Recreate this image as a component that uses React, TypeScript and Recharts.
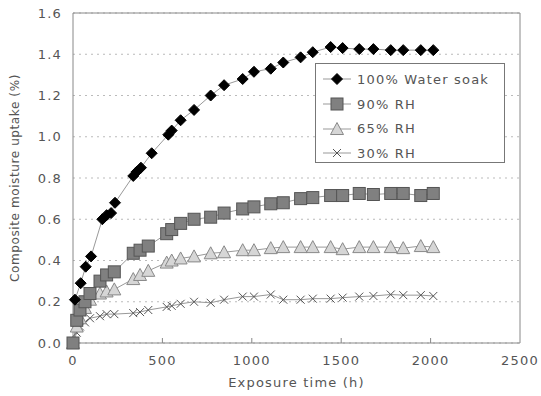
import { LineChart, Line, XAxis, YAxis, CartesianGrid, ReferenceLine } from "recharts";

// exposure time (h) and moisture uptake (%)
const waterHours = [11, 43, 71, 101, 164, 188, 213, 235, 337, 356, 380, 440, 533, 552, 602, 677, 770, 845, 949, 1012, 1106, 1176, 1273, 1341, 1441, 1508, 1601, 1680, 1777, 1847, 1945, 2015];
const waterSoak = [0.21, 0.29, 0.37, 0.42, 0.6, 0.62, 0.63, 0.68, 0.81, 0.83, 0.85, 0.92, 1.01, 1.03, 1.08, 1.13, 1.2, 1.25, 1.28, 1.315, 1.33, 1.36, 1.385, 1.41, 1.435, 1.43, 1.425, 1.425, 1.42, 1.42, 1.42, 1.42];

const rhHours = [0, 21, 39, 67, 95, 151, 188, 231, 337, 375, 421, 524, 552, 602, 677, 770, 845, 949, 1012, 1106, 1176, 1273, 1341, 1441, 1508, 1601, 1680, 1777, 1847, 1945, 2015];
const rh90 = [0, 0.11, 0.16, 0.2, 0.24, 0.3, 0.33, 0.345, 0.435, 0.45, 0.47, 0.53, 0.55, 0.58, 0.6, 0.61, 0.63, 0.65, 0.66, 0.675, 0.68, 0.7, 0.705, 0.715, 0.715, 0.725, 0.72, 0.725, 0.725, 0.715, 0.725];
const rh65 = [0, 0.08, 0.12, 0.17, 0.21, 0.24, 0.25, 0.26, 0.31, 0.33, 0.35, 0.39, 0.4, 0.41, 0.42, 0.435, 0.44, 0.45, 0.45, 0.46, 0.465, 0.465, 0.465, 0.465, 0.455, 0.465, 0.465, 0.465, 0.46, 0.47, 0.465];
const rh30 = [0, 0.05, 0.08, 0.1, 0.12, 0.13, 0.14, 0.14, 0.145, 0.15, 0.16, 0.175, 0.18, 0.19, 0.2, 0.195, 0.21, 0.225, 0.225, 0.235, 0.21, 0.21, 0.215, 0.215, 0.22, 0.225, 0.228, 0.235, 0.232, 0.232, 0.228];

const xTicks = [0, 500, 1000, 1500, 2000, 2500];
const yTicks = [0, 0.2, 0.4, 0.6, 0.8, 1.0, 1.2, 1.4, 1.6];

const toRows = (hours: number[], vals: number[]) => hours.map((h, i) => ({ h, v: vals[i] }));

const FONT = "DejaVu Sans, Verdana, sans-serif";
const TEXT = "#555";
const LINK = "#999";

const Diamond = ({ cx, cy, s = 5.5 }: any) => (
  <path d={`M${cx},${cy - s}L${cx + s},${cy}L${cx},${cy + s}L${cx - s},${cy}Z`} fill="#000" stroke="#000" />
);
const Square = ({ cx, cy, s = 6 }: any) => (
  <rect x={cx - s} y={cy - s} width={2 * s} height={2 * s} fill="#808080" stroke="#555" strokeWidth={1} />
);
const Triangle = ({ cx, cy, s = 6.5 }: any) => (
  <path d={`M${cx},${cy - s}L${cx + s},${cy + s * 0.85}L${cx - s},${cy + s * 0.85}Z`} fill="#d6d6d6" stroke="#888" />
);
const Cross = ({ cx, cy, s = 4 }: any) => (
  <path d={`M${cx - s},${cy - s}L${cx + s},${cy + s}M${cx - s},${cy + s}L${cx + s},${cy - s}`} stroke="#555" strokeWidth={1} fill="none" />
);

const series = [
  { name: "100% Water soak", data: toRows(waterHours, waterSoak), Mark: Diamond },
  { name: "90% RH", data: toRows(rhHours, rh90), Mark: Square },
  { name: "65% RH", data: toRows(rhHours, rh65), Mark: Triangle },
  { name: "30% RH", data: toRows(rhHours, rh30), Mark: Cross },
];

const XTick = ({ x, y, payload }: any) => (
  <g>
    {payload.value > 0 && payload.value < 2500 && <line x1={x} x2={x} y1={y} y2={y - 5} stroke="#888" />}
    <text x={x} y={y + 22} textAnchor="middle" fill={TEXT} fontSize={13} fontFamily={FONT} letterSpacing={1.2}>
      {payload.value}
    </text>
  </g>
);

const LegendBox = () => (
  <div
    style={{
      position: "absolute",
      left: 315,
      top: 63,
      width: 190,
      height: 100,
      boxSizing: "border-box",
      border: "1px solid #777",
      background: "#fff",
      padding: "3px 0 0 6px",
      fontFamily: FONT,
      fontSize: 13,
      letterSpacing: 1.2,
      color: TEXT,
    }}
  >
    {series.map((s) => (
      <div key={s.name} style={{ height: 24.7, display: "flex", alignItems: "center" }}>
        <svg width={34} height={20}>
          <line x1={1} x2={29} y1={10} y2={10} stroke={LINK} />
          <s.Mark cx={15} cy={10} />
        </svg>
        <span style={{ marginLeft: 1 }}>{s.name}</span>
      </div>
    ))}
  </div>
);

export default function App() {
  // draw the RH series first so the water-soak diamonds sit on top
  const order = [series[3], series[2], series[1], series[0]];
  return (
    <div style={{ position: "absolute", left: 0, top: 0, width: 541, height: 396, background: "#fff" }}>
      <LineChart width={541} height={396} margin={{ top: 13, right: 21, bottom: 0, left: 0 }}>
        <CartesianGrid vertical={false} stroke="#bbb" strokeDasharray="2 4" />
        <XAxis
          type="number"
          dataKey="h"
          domain={[0, 2500]}
          ticks={xTicks}
          allowDuplicatedCategory={false}
          stroke="#888"
          tickLine={false}
          tickSize={0}
          tickMargin={0}
          tick={<XTick />}
          height={53}
          label={{ value: "Exposure time (h)", position: "insideBottom", offset: 9, fill: TEXT, fontSize: 13, fontFamily: FONT, letterSpacing: 1.2 }}
        />
        <YAxis
          type="number"
          domain={[0, 1.6]}
          ticks={yTicks}
          width={73}
          stroke="#888"
          tickLine={false}
          tickSize={0}
          tickMargin={11}
          tickFormatter={(v: number) => v.toFixed(1)}
          tick={{ fill: TEXT, fontSize: 13, fontFamily: FONT, letterSpacing: 1.2 }}
          label={{ value: "Composite moisture uptake (%)", angle: -90, position: "insideLeft", offset: 15, style: { textAnchor: "middle" }, fill: TEXT, fontSize: 12, fontFamily: FONT, letterSpacing: 0.6 }}
        />
        <ReferenceLine y={1.6} stroke="#888" strokeDasharray="0" />
        <ReferenceLine x={2500} stroke="#888" strokeDasharray="0" />
        {order.map((s) => (
          <Line
            key={s.name}
            data={s.data}
            dataKey="v"
            name={s.name}
            type="linear"
            stroke={LINK}
            strokeWidth={1}
            isAnimationActive={false}
            dot={(p: any) => <s.Mark key={`${s.name}-${p.index}`} cx={p.cx} cy={p.cy} />}
          />
        ))}
      </LineChart>
      <LegendBox />
    </div>
  );
}
